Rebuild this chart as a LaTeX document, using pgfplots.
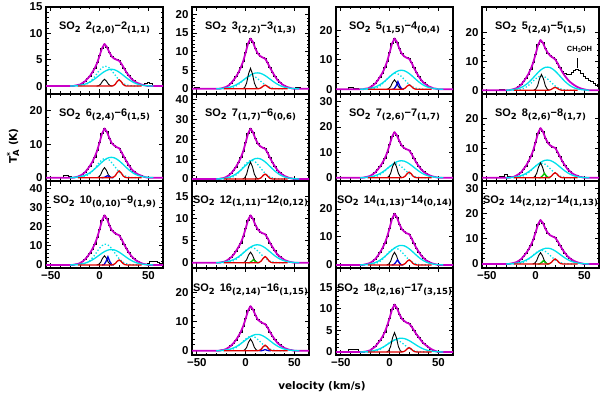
\documentclass[border=0pt]{standalone}
\usepackage{fontspec}
\setmainfont{Liberation Sans}
\newfontfamily\dv{DejaVu Sans}
\usepackage{pgfplots}
\pgfplotsset{compat=1.18}
\usepackage{pgfplotstable}

\definecolor{mag}{RGB}{200,0,200}
\definecolor{cy}{RGB}{0,225,235}
\definecolor{rd}{RGB}{225,0,0}
\definecolor{bl}{RGB}{0,0,220}
\definecolor{gr}{RGB}{0,200,0}

\newcommand{\lab}{\fontsize{11.5}{12}\selectfont\bfseries}
\newcommand{\tfont}{\fontsize{11}{12}\selectfont\bfseries}
\newcommand{\afont}{\dv\fontsize{10.5}{11}\selectfont\bfseries}
\newcommand{\sub}[1]{\raisebox{-2.4bp}{\dv\fontsize{8.5}{9}\selectfont\bfseries #1}}
\newcommand{\so}[4]{SO\sub{2}\hspace{5bp}#1\sub{(#2)}−#3\sub{(#4)}}

\tikzset{ttl/.style={font=\tfont, inner sep=0pt, anchor=center}}
\pgfplotsset{
  panel/.style={
    anchor=south west, width=117bp, height=87bp, scale only axis,
    xmin=-55, xmax=65, xtick={-50,0,50}, minor x tick num=4,
    xticklabels={}, minor y tick num=4,
    tick align=inside, xtick pos=both, ytick pos=both,
    xticklabel pos=lower, yticklabel pos=left,
    major tick length=4.5bp, minor tick length=2.5bp,
    axis line style={line width=1.1bp},
    every tick/.append style={line width=0.9bp, black},
    tick label style={font=\lab},
    /pgf/number format/assume math mode=true,
    clip mode=individual,
  },
  xlab/.style={xticklabels={−50,0,50}},
  dat/.style={black, line width=0.8bp, const plot mark mid},
  fit/.style={mag, line width=1.8bp, line join=round},
  cs/.style={cy, line width=1.3bp, smooth},
  cd/.style={cy, line width=1.3bp, smooth, dash pattern=on 1.3bp off 2bp},
  bk/.style={black, line width=0.9bp},
  rdl/.style={rd, line width=1.3bp},
  blu/.style={bl, line width=1.3bp},
  grn/.style={gr, line width=1.3bp},
}

% velocity, spectrum, fit
\pgfplotstableread{
v d f
-55 0 0
-50 0 0
-45 0.1 0
-40 0 0
-35 0.1 0
-30 0 0
-27.5 0.1 0
-25 0.1 0.1
-22.5 0.2 0.2
-20 0.3 0.3
-17.5 0.6 0.6
-15 0.9 0.9
-12.5 1.4 1.4
-10 1.9 1.9
-7.5 2.6 2.6
-5 3.4 3.4
-2.5 4.4 4.4
0 5.8 5.8
2.5 7.2 7.2
5 8.0 8.0
7.5 7.4 7.4
10 6.4 6.4
12.5 5.6 5.6
15 5.2 5.2
17.5 5.0 5.0
20 4.8 4.8
22.5 4.2 4.2
25 3.4 3.4
27.5 2.6 2.6
30 2.0 2.0
32.5 1.4 1.4
35 1.0 1.0
37.5 0.7 0.7
40 0.5 0.5
42.5 0.3 0.3
45 0.3 0.2
47.5 0.5 0.1
50 0.7 0
52.5 0.6 0
55 0.2 0
57.5 0 0
60 0.1 0
62.5 0 0
65 0 0
}\tA

\pgfplotstableread{
v d f
-55 0 0
-50 0.3 0
-45 0 0
-40 0.1 0
-35 0 0
-30 0.1 0
-27.5 0 0
-25 0.1 0.1
-22.5 0.3 0.3
-20 0.5 0.5
-17.5 0.9 0.9
-15 1.5 1.5
-12.5 2.3 2.3
-10 3.2 3.2
-7.5 4.3 4.3
-5 5.7 5.7
-2.5 7.4 7.4
0 9.7 9.7
2.5 12.2 12.2
5 13.5 13.5
7.5 12.6 12.6
10 10.8 10.8
12.5 9.5 9.5
15 8.8 8.8
17.5 8.4 8.4
20 8.1 8.1
22.5 7.0 7.0
25 5.7 5.7
27.5 4.5 4.5
30 3.4 3.4
32.5 2.4 2.4
35 1.8 1.8
37.5 1.2 1.2
40 0.8 0.8
42.5 0.5 0.5
45 0.3 0.3
47.5 0.1 0.1
50 0.2 0
52.5 0.5 0
55 0.3 0
57.5 0 0
60 0.1 0
62.5 0 0
65 0 0
}\tB

\pgfplotstableread{
v d f
-55 0 0
-50 0 0
-45 0.1 0
-40 0.5 0
-35 0.2 0
-30 0 0
-27.5 0.1 0
-25 0.2 0.2
-22.5 0.3 0.3
-20 0.7 0.7
-17.5 1.2 1.2
-15 1.9 1.9
-12.5 2.9 2.9
-10 4.2 4.2
-7.5 5.5 5.5
-5 7.3 7.3
-2.5 9.5 9.5
0 12.5 12.5
2.5 15.6 15.6
5 17.3 17.3
7.5 16.1 16.1
10 13.8 13.8
12.5 12.1 12.1
15 11.2 11.2
17.5 10.7 10.7
20 10.4 10.4
22.5 9.0 9.0
25 7.3 7.3
27.5 5.7 5.7
30 4.3 4.3
32.5 3.1 3.1
35 2.2 2.2
37.5 1.6 1.6
40 1.0 1.0
42.5 0.7 0.7
45 0.3 0.3
47.5 0.2 0.2
50 0 0
52.5 0 0
55 0.1 0
57.5 0 0
60 0 0
62.5 0.1 0
65 0 0
}\tC

\pgfplotstableread{
v d f
-55 0 0
-50 0 0
-45 0.1 0
-40 0 0
-35 0.3 0
-30 0.1 0
-27.5 0 0
-25 0.2 0.2
-22.5 0.4 0.4
-20 0.7 0.7
-17.5 1.2 1.2
-15 1.9 1.9
-12.5 3.0 3.0
-10 4.2 4.2
-7.5 5.6 5.6
-5 7.4 7.4
-2.5 9.6 9.6
0 12.6 12.6
2.5 15.8 15.8
5 17.5 17.5
7.5 16.5 16.5
10 14.5 14.5
12.5 13.0 13.0
15 12.0 12.0
17.5 11.4 11.4
20 10.8 10.8
22.5 9.4 9.4
25 7.8 7.8
27.5 6.6 6.3
30 5.8 5.0
32.5 5.4 3.9
35 5.6 3.0
37.5 6.2 2.3
40 6.9 1.7
42.5 7.2 1.2
45 6.8 0.8
47.5 6.0 0.5
50 5.0 0.3
52.5 4.3 0.1
55 3.6 0
57.5 3.0 0
60 2.4 0
62.5 1.8 0
65 1.4 0
}\tD

\pgfplotstableread{
v d f
-55 0 0
-50 0 0
-45 0.1 0
-40 0.2 0
-35 0.6 0
-30 0.3 0
-27.5 0.1 0
-25 0.1 0.1
-22.5 0.3 0.3
-20 0.6 0.6
-17.5 1.0 1.0
-15 1.6 1.6
-12.5 2.5 2.5
-10 3.5 3.5
-7.5 4.7 4.7
-5 6.2 6.2
-2.5 8.1 8.1
0 10.6 10.6
2.5 13.2 13.2
5 14.7 14.7
7.5 13.7 13.7
10 11.8 11.8
12.5 10.3 10.3
15 9.6 9.6
17.5 9.1 9.1
20 8.8 8.8
22.5 7.6 7.6
25 6.2 6.2
27.5 4.9 4.9
30 3.7 3.7
32.5 2.6 2.6
35 1.9 1.9
37.5 1.3 1.3
40 0.9 0.9
42.5 0.6 0.6
45 0.3 0.3
47.5 0.1 0.1
50 0 0
52.5 0 0
55 0.1 0
57.5 0 0
60 0 0
62.5 0.1 0
65 0 0
}\tE

\pgfplotstableread{
v d f
-55 0 0
-50 0 0
-45 0.2 0
-40 0 0
-35 0.1 0
-30 0 0
-27.5 0.1 0
-25 0.3 0.3
-22.5 0.5 0.5
-20 1.0 1.0
-17.5 1.8 1.8
-15 2.8 2.8
-12.5 4.3 4.3
-10 6.1 6.1
-7.5 8.2 8.2
-5 10.7 10.7
-2.5 14.0 14.0
0 18.4 18.4
2.5 23.0 23.0
5 25.5 25.5
7.5 23.7 23.7
10 20.4 20.4
12.5 17.9 17.9
15 16.6 16.6
17.5 15.8 15.8
20 15.3 15.3
22.5 13.3 13.3
25 10.7 10.7
27.5 8.4 8.4
30 6.4 6.4
32.5 4.6 4.6
35 3.3 3.3
37.5 2.3 2.3
40 1.5 1.5
42.5 1.0 1.0
45 0.5 0.5
47.5 0.3 0.3
50 0 0
52.5 0.2 0
55 0 0
57.5 0 0
60 0.1 0
62.5 0 0
65 0 0
}\tF

\pgfplotstableread{
v d f
-55 0 0
-50 0 0
-45 0.1 0
-40 0 0
-35 0.1 0
-30 0 0
-27.5 0.1 0
-25 0.2 0.2
-22.5 0.4 0.4
-20 0.7 0.7
-17.5 1.3 1.3
-15 2.0 2.0
-12.5 3.1 3.1
-10 4.3 4.3
-7.5 5.8 5.8
-5 7.6 7.6
-2.5 9.9 9.9
0 13.0 13.0
2.5 16.2 16.2
5 18.0 18.0
7.5 16.7 16.7
10 14.4 14.4
12.5 12.6 12.6
15 11.7 11.7
17.5 11.2 11.2
20 10.8 10.8
22.5 9.4 9.4
25 7.6 7.6
27.5 5.9 5.9
30 4.5 4.5
32.5 3.2 3.2
35 2.3 2.3
37.5 1.6 1.6
40 1.1 1.1
42.5 0.7 0.7
45 0.4 0.4
47.5 0.2 0.2
50 0 0
52.5 0 0
55 0.1 0
57.5 0 0
60 0 0
62.5 0.1 0
65 0 0
}\tG

\pgfplotstableread{
v d f
-55 0 0
-50 0 0
-45 0.1 0
-40 0 0
-35 0.3 0
-30 1.0 0
-27.5 0.4 0
-25 0.2 0.2
-22.5 0.3 0.3
-20 0.7 0.7
-17.5 1.2 1.2
-15 1.8 1.8
-12.5 2.9 2.9
-10 4.0 4.0
-7.5 5.4 5.4
-5 7.1 7.1
-2.5 9.2 9.2
0 12.1 12.1
2.5 15.1 15.1
5 16.8 16.8
7.5 15.6 15.6
10 13.4 13.4
12.5 11.8 11.8
15 10.9 10.9
17.5 10.4 10.4
20 10.1 10.1
22.5 8.7 8.7
25 7.1 7.1
27.5 5.5 5.5
30 4.2 4.2
32.5 3.0 3.0
35 2.2 2.2
37.5 1.5 1.5
40 1.0 1.0
42.5 0.7 0.7
45 0.3 0.3
47.5 0.2 0.2
50 0 0
52.5 0 0
55 0.1 0
57.5 0 0
60 0 0
62.5 0.1 0
65 0 0
}\tH

\pgfplotstableread{
v d f
-55 0 0
-50 0 0
-45 0.1 0
-40 0 0
-35 0.1 0
-30 0 0
-27.5 0.1 0
-25 0.3 0.3
-22.5 0.5 0.5
-20 1.0 1.0
-17.5 1.8 1.8
-15 2.9 2.9
-12.5 4.4 4.4
-10 6.2 6.2
-7.5 8.3 8.3
-5 10.9 10.9
-2.5 14.3 14.3
0 18.7 18.7
2.5 23.4 23.4
5 26.0 26.0
7.5 24.2 24.2
10 20.8 20.8
12.5 18.2 18.2
15 16.9 16.9
17.5 16.1 16.1
20 15.6 15.6
22.5 13.5 13.5
25 10.9 10.9
27.5 8.6 8.6
30 6.5 6.5
32.5 4.7 4.7
35 3.4 3.4
37.5 2.3 2.3
40 1.6 1.6
42.5 1.0 1.0
45 0.5 0.5
47.5 0.5 0.3
50 1.0 0
52.5 1.8 0
55 2.0 0
57.5 1.6 0
60 1.2 0
62.5 0.6 0
65 0.3 0
}\tI

\pgfplotstableread{
v d f
-55 0 0
-50 0 0
-45 0.1 0
-40 0 0
-35 0.1 0
-30 0 0
-27.5 0.1 0
-25 0.1 0.1
-22.5 0.2 0.2
-20 0.4 0.4
-17.5 0.8 0.8
-15 1.2 1.2
-12.5 1.8 1.8
-10 2.6 2.6
-7.5 3.5 3.5
-5 4.5 4.5
-2.5 5.9 5.9
0 7.8 7.8
2.5 9.7 9.7
5 10.8 10.8
7.5 10.0 10.0
10 8.6 8.6
12.5 7.6 7.6
15 7.0 7.0
17.5 6.7 6.7
20 6.5 6.5
22.5 5.6 5.6
25 4.5 4.5
27.5 3.6 3.6
30 2.7 2.7
32.5 1.9 1.9
35 1.4 1.4
37.5 1.0 1.0
40 0.6 0.6
42.5 0.4 0.4
45 0.2 0.2
47.5 0.1 0.1
50 0 0
52.5 0 0
55 0.1 0
57.5 0 0
60 0 0
62.5 0.1 0
65 0 0
}\tJ

\pgfplotstableread{
v d f
-55 0 0
-50 0 0
-45 0.1 0
-40 0 0
-35 0.1 0
-30 0 0
-27.5 0.1 0
-25 0.2 0.2
-22.5 0.4 0.4
-20 0.7 0.7
-17.5 1.3 1.3
-15 2.0 2.0
-12.5 3.1 3.1
-10 4.4 4.4
-7.5 5.9 5.9
-5 7.7 7.7
-2.5 10.1 10.1
0 13.2 13.2
2.5 16.5 16.5
5 18.3 18.3
7.5 17.0 17.0
10 14.6 14.6
12.5 12.8 12.8
15 11.9 11.9
17.5 11.3 11.3
20 11.0 11.0
22.5 9.5 9.5
25 7.7 7.7
27.5 6.0 6.0
30 4.6 4.6
32.5 3.3 3.3
35 2.4 2.4
37.5 1.6 1.6
40 1.1 1.1
42.5 0.7 0.7
45 0.4 0.4
47.5 0.2 0.2
50 0 0
52.5 0 0
55 0.1 0
57.5 0 0
60 0 0
62.5 0.1 0
65 0 0
}\tK

\pgfplotstableread{
v d f
-55 0 0
-50 0 0
-45 0.1 0
-40 0 0
-35 0.1 0
-30 0 0
-27.5 0.1 0
-25 0.2 0.2
-22.5 0.4 0.4
-20 0.7 0.7
-17.5 1.2 1.2
-15 1.9 1.9
-12.5 3.0 3.0
-10 4.2 4.2
-7.5 5.6 5.6
-5 7.4 7.4
-2.5 9.6 9.6
0 12.6 12.6
2.5 15.8 15.8
5 17.5 17.5
7.5 16.3 16.3
10 14.0 14.0
12.5 12.3 12.3
15 11.4 11.4
17.5 10.9 10.9
20 10.5 10.5
22.5 9.1 9.1
25 7.4 7.4
27.5 5.8 5.8
30 4.4 4.4
32.5 3.2 3.2
35 2.3 2.3
37.5 1.6 1.6
40 1.1 1.1
42.5 0.7 0.7
45 0.4 0.4
47.5 0.2 0.2
50 0 0
52.5 0 0
55 0.1 0
57.5 0 0
60 0 0
62.5 0.1 0
65 0 0
}\tL

\pgfplotstableread{
v d f
-55 0 0
-50 0 0
-45 0.1 0
-40 0 0
-35 0.1 0
-30 0 0
-27.5 0.1 0
-25 0.2 0.2
-22.5 0.3 0.3
-20 0.6 0.6
-17.5 1.1 1.1
-15 1.7 1.7
-12.5 2.6 2.6
-10 3.6 3.6
-7.5 4.9 4.9
-5 6.4 6.4
-2.5 8.4 8.4
0 10.9 10.9
2.5 13.7 13.7
5 15.2 15.2
7.5 14.1 14.1
10 12.2 12.2
12.5 10.6 10.6
15 9.9 9.9
17.5 9.4 9.4
20 9.1 9.1
22.5 7.9 7.9
25 6.4 6.4
27.5 5.0 5.0
30 3.8 3.8
32.5 2.7 2.7
35 2.0 2.0
37.5 1.4 1.4
40 0.9 0.9
42.5 0.6 0.6
45 0.3 0.3
47.5 0.2 0.2
50 0 0
52.5 0 0
55 0.1 0
57.5 0 0
60 0 0
62.5 0.1 0
65 0 0
}\tM

\pgfplotstableread{
v d f
-55 0 0
-50 0 0
-45 0.1 0
-40 0.6 0
-35 0.5 0
-30 0.1 0
-27.5 0 0
-25 0.1 0.1
-22.5 0.2 0.2
-20 0.4 0.4
-17.5 0.8 0.8
-15 1.2 1.2
-12.5 1.9 1.9
-10 2.6 2.6
-7.5 3.5 3.5
-5 4.6 4.6
-2.5 6.1 6.1
0 7.9 7.9
2.5 9.9 9.9
5 11.0 11.0
7.5 10.2 10.2
10 8.8 8.8
12.5 7.7 7.7
15 7.2 7.2
17.5 6.8 6.8
20 6.6 6.6
22.5 5.9 5.9
25 5.0 5.0
27.5 4.1 4.1
30 3.4 3.4
32.5 2.6 2.6
35 2.0 2.0
37.5 1.5 1.5
40 1.1 1.1
42.5 0.7 0.7
45 0.4 0.4
47.5 0.2 0.2
50 0 0
52.5 0 0
55 0.1 0
57.5 0 0
60 0 0
62.5 0.1 0
65 0 0
}\tN

\begin{document}
\begin{tikzpicture}
\path[use as bounding box] (0,0) rectangle (600bp,396bp);

% ---- row 1
\begin{axis}[panel, at={(46bp,302bp)}, ymin=-1.5, ymax=15, ytick={0,5,10,15}]
\addplot[dat] table[x=v,y=d]{\tA};
\addplot[fit] table[x=v,y=f]{\tA};
\addplot[cs] coordinates {(-30,0)(-25,0.05)(-20,0.15)(-15,0.37)(-10,0.76)(-5,1.36)(0,2.09)(5,2.77)(10,3.16)(15,3.12)(20,2.65)(25,1.94)(30,1.23)(35,0.67)(40,0.31)(45,0.13)(50,0.04)(55,0)};
\addplot[cd] coordinates {(-30,0)(-25,0.01)(-20,0.06)(-15,0.25)(-10,0.78)(-5,1.80)(0,3.04)(5,3.78)(10,3.44)(15,2.31)(20,1.13)(25,0.41)(30,0.11)(35,0.02)(40,0)};
\addplot[bk] coordinates {(-3,0)(-1,0.08)(1,0.36)(3,0.95)(5,1.3)(7,0.95)(9,0.36)(11,0.08)(13,0)};
\addplot[rdl] coordinates {(-22,0)(12,0)(14,0.07)(16,0.34)(18,0.88)(20,1.2)(22,0.88)(24,0.34)(26,0.07)(28,0)(43,0)};
\node[ttl] at (rel axis cs:0.5,0.76) {\so{2}{2,0}{2}{1,1}};
\end{axis}

\begin{axis}[panel, at={(192bp,302bp)}, ymin=-1.4, ymax=22, ytick={0,5,10,15,20}]
\addplot[dat] table[x=v,y=d]{\tB};
\addplot[fit] table[x=v,y=f]{\tB};
\addplot[cs] coordinates {(-30,0)(-25,0.07)(-20,0.21)(-15,0.50)(-10,1.03)(-5,1.83)(0,2.81)(5,3.72)(10,4.25)(15,4.19)(20,3.56)(25,2.61)(30,1.65)(35,0.90)(40,0.42)(45,0.17)(50,0.06)(55,0)};
\addplot[cd] coordinates {(-30,0)(-25,0.01)(-20,0.05)(-15,0.23)(-10,0.72)(-5,1.66)(0,2.80)(5,3.48)(10,3.17)(15,2.12)(20,1.04)(25,0.38)(30,0.10)(35,0.02)(40,0)};
\addplot[bk] coordinates {(-3,0)(-1,0.33)(1,1.54)(3,4.02)(5,5.5)(7,4.02)(9,1.54)(11,0.33)(13,0)};
\addplot[rdl] coordinates {(-22,0)(12,0)(14,0.06)(16,0.28)(18,0.73)(20,1.0)(22,0.73)(24,0.28)(26,0.06)(28,0)(43,0)};
\node[ttl] at (rel axis cs:0.5,0.76) {\so{3}{2,2}{3}{1,3}};
\end{axis}

\begin{axis}[panel, at={(336bp,302bp)}, ymin=-1.6, ymax=28, ytick={0,10,20}]
\addplot[dat] table[x=v,y=d]{\tC};
\addplot[fit] table[x=v,y=f]{\tC};
\addplot[cs] coordinates {(-30,0)(-25,0.11)(-20,0.31)(-15,0.75)(-10,1.55)(-5,2.76)(0,4.24)(5,5.62)(10,6.42)(15,6.33)(20,5.38)(25,3.95)(30,2.49)(35,1.36)(40,0.64)(45,0.26)(50,0.09)(55,0)};
\addplot[cd] coordinates {(-30,0)(-25,0.02)(-20,0.08)(-15,0.36)(-10,1.13)(-5,2.61)(0,4.41)(5,5.47)(10,4.98)(15,3.34)(20,1.64)(25,0.59)(30,0.16)(35,0.03)(40,0)};
\addplot[bk] coordinates {(-3,0)(-1,0.19)(1,0.90)(3,2.34)(5,3.2)(7,2.34)(9,0.90)(11,0.19)(13,0)};
\addplot[blu] coordinates {(2.5,0)(4.5,0.08)(6.5,1.07)(8.5,2.6)(10.5,1.07)(12.5,0.08)(14.5,0)};
\addplot[rdl] coordinates {(-22,0)(12,0)(14,0.09)(16,0.42)(18,1.10)(20,1.5)(22,1.10)(24,0.42)(26,0.09)(28,0)(43,0)};
\node[ttl] at (rel axis cs:0.5,0.76) {\so{5}{1,5}{4}{0,4}};
\end{axis}

\begin{axis}[panel, at={(482bp,302bp)}, ymin=-1.3, ymax=29, ytick={0,10,20}]
\addplot[dat] table[x=v,y=d]{\tD};
\addplot[fit] table[x=v,y=f]{\tD};
\addplot[cs] coordinates {(-30,0)(-25,0.14)(-20,0.39)(-15,0.94)(-10,1.94)(-5,3.44)(0,5.29)(5,7.01)(10,8.00)(15,7.89)(20,6.70)(25,4.92)(30,3.10)(35,1.69)(40,0.79)(45,0.32)(50,0.11)(55,0)};
\addplot[cd] coordinates {(-30,0)(-25,0.02)(-20,0.08)(-15,0.33)(-10,1.03)(-5,2.37)(0,4.01)(5,4.97)(10,4.53)(15,3.04)(20,1.49)(25,0.54)(30,0.15)(35,0.03)(40,0)};
\addplot[bk] coordinates {(-2,0)(0,0.33)(2,1.54)(4,4.02)(6,5.5)(8,4.02)(10,1.54)(12,0.33)(14,0)};
\addplot[rdl] coordinates {(-22,0)(12,0)(14,0.06)(16,0.28)(18,0.73)(20,1.0)(22,0.73)(24,0.28)(26,0.06)(28,0)(43,0)};
\addplot[black, line width=0.9bp] coordinates {(42.5,7.8)(42.5,11.3)};
\node[font=\fontsize{7.5}{8}\selectfont\bfseries, inner sep=0pt] at (axis cs:45,14.2) {CH\raisebox{-1.5bp}{\fontsize{5.5}{6}\selectfont 3}OH};
\node[ttl] at (rel axis cs:0.5,0.76) {\so{5}{2,4}{5}{1,5}};
\end{axis}

% ---- row 2
\begin{axis}[panel, at={(46bp,215bp)}, ymin=-1.0, ymax=25, ytick={0,10,20}]
\addplot[dat] table[x=v,y=d]{\tE};
\addplot[fit] table[x=v,y=f]{\tE};
\addplot[cs] coordinates {(-30,0)(-25,0.10)(-20,0.29)(-15,0.71)(-10,1.46)(-5,2.59)(0,3.98)(5,5.28)(10,6.03)(15,5.94)(20,5.04)(25,3.70)(30,2.34)(35,1.27)(40,0.60)(45,0.24)(50,0.09)(55,0)};
\addplot[cd] coordinates {(-30,0)(-25,0.02)(-20,0.09)(-15,0.38)(-10,1.19)(-5,2.75)(0,4.65)(5,5.77)(10,5.25)(15,3.52)(20,1.73)(25,0.63)(30,0.17)(35,0.03)(40,0)};
\addplot[bk] coordinates {(-3,0)(-1,0.18)(1,0.84)(3,2.19)(5,3.0)(7,2.19)(9,0.84)(11,0.18)(13,0)};
\addplot[blu] coordinates {(2,0)(4,0.02)(6,0.25)(8,0.6)(10,0.25)(12,0.02)(14,0)};
\addplot[rdl] coordinates {(-22,0)(12,0)(14,0.12)(16,0.56)(18,1.46)(20,2.0)(22,1.46)(24,0.56)(26,0.12)(28,0)(43,0)};
\node[ttl] at (rel axis cs:0.5,0.76) {\so{6}{2,4}{6}{1,5}};
\end{axis}

\begin{axis}[panel, at={(192bp,215bp)}, ymin=-1.0, ymax=43, ytick={0,10,20,30,40}]
\addplot[dat] table[x=v,y=d]{\tF};
\addplot[fit] table[x=v,y=f]{\tF};
\addplot[cs] coordinates {(-30,0)(-25,0.18)(-20,0.50)(-15,1.22)(-10,2.51)(-5,4.46)(0,6.86)(5,9.08)(10,10.37)(15,10.23)(20,8.68)(25,6.37)(30,4.02)(35,2.19)(40,1.03)(45,0.42)(50,0.15)(55,0)};
\addplot[cd] coordinates {(-30,0)(-25,0.03)(-20,0.14)(-15,0.63)(-10,1.96)(-5,4.50)(0,7.61)(5,9.44)(10,8.61)(15,5.77)(20,2.83)(25,1.03)(30,0.28)(35,0.06)(40,0)};
\addplot[bk] coordinates {(-3,0)(-1,0.51)(1,2.38)(3,6.21)(5,8.5)(7,6.21)(9,2.38)(11,0.51)(13,0)};
\addplot[rdl] coordinates {(-22,0)(12,0)(14,0.15)(16,0.70)(18,1.83)(20,2.5)(22,1.83)(24,0.70)(26,0.15)(28,0)(43,0)};
\node[ttl] at (rel axis cs:0.5,0.76) {\so{7}{1,7}{6}{0,6}};
\end{axis}

\begin{axis}[panel, at={(336bp,215bp)}, ymin=-1.3, ymax=33, ytick={0,10,20,30}]
\addplot[dat] table[x=v,y=d]{\tG};
\addplot[fit] table[x=v,y=f]{\tG};
\addplot[cs] coordinates {(-30,0)(-25,0.11)(-20,0.32)(-15,0.78)(-10,1.60)(-5,2.85)(0,4.38)(5,5.80)(10,6.62)(15,6.53)(20,5.54)(25,4.07)(30,2.57)(35,1.40)(40,0.66)(45,0.27)(50,0.09)(55,0)};
\addplot[cd] coordinates {(-30,0)(-25,0.02)(-20,0.08)(-15,0.36)(-10,1.13)(-5,2.61)(0,4.41)(5,5.47)(10,4.98)(15,3.34)(20,1.64)(25,0.59)(30,0.16)(35,0.03)(40,0)};
\addplot[bk] coordinates {(-3,0)(-1,0.36)(1,1.68)(3,4.38)(5,6.0)(7,4.38)(9,1.68)(11,0.36)(13,0)};
\addplot[rdl] coordinates {(-22,0)(12,0)(14,0.13)(16,0.62)(18,1.61)(20,2.2)(22,1.61)(24,0.62)(26,0.13)(28,0)(43,0)};
\node[ttl] at (rel axis cs:0.5,0.76) {\so{7}{2,6}{7}{1,7}};
\end{axis}

\begin{axis}[panel, at={(482bp,215bp)}, ymin=-1.1, ymax=28.3, ytick={0,10,20}]
\addplot[dat] table[x=v,y=d]{\tH};
\addplot[fit] table[x=v,y=f]{\tH};
\addplot[cs] coordinates {(-30,0)(-25,0.10)(-20,0.29)(-15,0.70)(-10,1.43)(-5,2.55)(0,3.92)(5,5.19)(10,5.93)(15,5.84)(20,4.96)(25,3.64)(30,2.30)(35,1.25)(40,0.59)(45,0.24)(50,0.08)(55,0)};
\addplot[cd] coordinates {(-30,0)(-25,0.02)(-20,0.08)(-15,0.33)(-10,1.03)(-5,2.37)(0,4.01)(5,4.97)(10,4.53)(15,3.04)(20,1.49)(25,0.54)(30,0.15)(35,0.03)(40,0)};
\addplot[bk] coordinates {(-3,0)(-1,0.30)(1,1.40)(3,3.65)(5,5.0)(7,3.65)(9,1.40)(11,0.30)(13,0)};
\addplot[grn] coordinates {(3,0)(5,0.05)(7,0.62)(9,1.5)(11,0.62)(13,0.05)(15,0)};
\addplot[rdl] coordinates {(-22,0)(12,0)(14,0.10)(16,0.48)(18,1.24)(20,1.7)(22,1.24)(24,0.48)(26,0.10)(28,0)(43,0)};
\node[ttl] at (rel axis cs:0.5,0.76) {\so{8}{2,6}{8}{1,7}};
\end{axis}

% ---- row 3
\begin{axis}[panel, xlab, at={(46bp,128bp)}, ymin=-1.6, ymax=44, ytick={0,10,20,30,40}]
\addplot[dat] table[x=v,y=d]{\tI};
\addplot[fit] table[x=v,y=f]{\tI};
\addplot[cs] coordinates {(-30,0)(-25,0.14)(-20,0.39)(-15,0.94)(-10,1.94)(-5,3.44)(0,5.29)(5,7.01)(10,8.00)(15,7.89)(20,6.70)(25,4.92)(30,3.10)(35,1.69)(40,0.79)(45,0.32)(50,0.11)(55,0)};
\addplot[cd] coordinates {(-30,0)(-25,0.03)(-20,0.17)(-15,0.73)(-10,2.27)(-5,5.21)(0,8.81)(5,10.93)(10,9.97)(15,6.68)(20,3.28)(25,1.19)(30,0.32)(35,0.07)(40,0)};
\addplot[bk] coordinates {(-3,0)(-1,0.29)(1,1.34)(3,3.50)(5,4.8)(7,3.50)(9,1.34)(11,0.29)(13,0)};
\addplot[blu] coordinates {(2.5,0)(4.5,0.13)(6.5,1.76)(8.5,4.3)(10.5,1.76)(12.5,0.13)(14.5,0)};
\addplot[rdl] coordinates {(-22,0)(12,0)(14,0.16)(16,0.73)(18,1.90)(20,2.6)(22,1.90)(24,0.73)(26,0.16)(28,0)(43,0)};
\node[ttl] at (rel axis cs:0.5,0.76) {\so{10}{0,10}{9}{1,9}};
\end{axis}

\begin{axis}[panel, at={(192bp,128bp)}, ymin=-1.2, ymax=18.6, ytick={0,5,10,15}]
\addplot[dat] table[x=v,y=d]{\tJ};
\addplot[fit] table[x=v,y=f]{\tJ};
\addplot[cs] coordinates {(-30,0)(-25,0.07)(-20,0.20)(-15,0.48)(-10,0.98)(-5,1.74)(0,2.68)(5,3.55)(10,4.05)(15,3.99)(20,3.39)(25,2.49)(30,1.57)(35,0.86)(40,0.40)(45,0.16)(50,0.06)(55,0)};
\addplot[cd] coordinates {(-30,0)(-25,0.01)(-20,0.05)(-15,0.23)(-10,0.72)(-5,1.66)(0,2.80)(5,3.48)(10,3.17)(15,2.12)(20,1.04)(25,0.38)(30,0.10)(35,0.02)(40,0)};
\addplot[bk] coordinates {(-3,0)(-1,0.14)(1,0.67)(3,1.75)(5,2.4)(7,1.75)(9,0.67)(11,0.14)(13,0)};
\addplot[grn] coordinates {(2,0)(4,0.02)(6,0.29)(8,0.7)(10,0.29)(12,0.02)(14,0)};
\addplot[rdl] coordinates {(-22,0)(12,0)(14,0.08)(16,0.39)(18,1.02)(20,1.4)(22,1.02)(24,0.39)(26,0.08)(28,0)(43,0)};
\node[ttl] at (rel axis cs:0.5,0.77) {\so{12}{1,11}{12}{0,12}};
\end{axis}

\begin{axis}[panel, at={(336bp,128bp)}, ymin=-1.1, ymax=30, ytick={0,10,20}]
\addplot[dat] table[x=v,y=d]{\tK};
\addplot[fit] table[x=v,y=f]{\tK};
\addplot[cs] coordinates {(-30,0)(-25,0.12)(-20,0.34)(-15,0.81)(-10,1.67)(-5,2.98)(0,4.57)(5,6.06)(10,6.92)(15,6.82)(20,5.79)(25,4.25)(30,2.68)(35,1.46)(40,0.69)(45,0.28)(50,0.10)(55,0)};
\addplot[cd] coordinates {(-30,0)(-25,0.02)(-20,0.09)(-15,0.40)(-10,1.24)(-5,2.84)(0,4.81)(5,5.96)(10,5.44)(15,3.64)(20,1.79)(25,0.65)(30,0.17)(35,0.04)(40,0)};
\addplot[bk] coordinates {(-3,0)(-1,0.27)(1,1.26)(3,3.29)(5,4.5)(7,3.29)(9,1.26)(11,0.27)(13,0)};
\addplot[blu] coordinates {(2,0)(4,0.05)(6,0.74)(8,1.8)(10,0.74)(12,0.05)(14,0)};
\addplot[rdl] coordinates {(-22,0)(12,0)(14,0.11)(16,0.50)(18,1.31)(20,1.8)(22,1.31)(24,0.50)(26,0.11)(28,0)(43,0)};
\node[ttl] at (rel axis cs:0.5,0.77) {\so{14}{1,13}{14}{0,14}};
\end{axis}

\begin{axis}[panel, xlab, at={(482bp,128bp)}, ymin=-1.6, ymax=33, ytick={0,10,20,30}]
\addplot[dat] table[x=v,y=d]{\tL};
\addplot[fit] table[x=v,y=f]{\tL};
\addplot[cs] coordinates {(-30,0)(-25,0.11)(-20,0.30)(-15,0.73)(-10,1.51)(-5,2.68)(0,4.11)(5,5.45)(10,6.22)(15,6.14)(20,5.21)(25,3.82)(30,2.41)(35,1.32)(40,0.62)(45,0.25)(50,0.09)(55,0)};
\addplot[cd] coordinates {(-30,0)(-25,0.02)(-20,0.08)(-15,0.36)(-10,1.13)(-5,2.61)(0,4.41)(5,5.47)(10,4.98)(15,3.34)(20,1.64)(25,0.59)(30,0.16)(35,0.03)(40,0)};
\addplot[bk] coordinates {(-3,0)(-1,0.27)(1,1.26)(3,3.29)(5,4.5)(7,3.29)(9,1.26)(11,0.27)(13,0)};
\addplot[grn] coordinates {(2,0)(4,0.04)(6,0.53)(8,1.3)(10,0.53)(12,0.04)(14,0)};
\addplot[rdl] coordinates {(-22,0)(12,0)(14,0.12)(16,0.56)(18,1.46)(20,2.0)(22,1.46)(24,0.56)(26,0.12)(28,0)(43,0)};
\node[ttl] at (rel axis cs:0.5,0.77) {\so{14}{2,12}{14}{1,13}};
\end{axis}

% ---- row 4
\begin{axis}[panel, xlab, at={(192bp,41bp)}, ymin=-1.45, ymax=28.2, ytick={0,10,20}]
\addplot[dat] table[x=v,y=d]{\tM};
\addplot[fit] table[x=v,y=f]{\tM};
\addplot[cs] coordinates {(-30,0)(-25,0.10)(-20,0.27)(-15,0.65)(-10,1.34)(-5,2.38)(0,3.66)(5,4.84)(10,5.53)(15,5.45)(20,4.63)(25,3.40)(30,2.14)(35,1.17)(40,0.55)(45,0.22)(50,0.08)(55,0)};
\addplot[cd] coordinates {(-30,0)(-25,0.02)(-20,0.08)(-15,0.33)(-10,1.03)(-5,2.37)(0,4.01)(5,4.97)(10,4.53)(15,3.04)(20,1.49)(25,0.54)(30,0.15)(35,0.03)(40,0)};
\addplot[bk] coordinates {(-3,0)(-1,0.24)(1,1.12)(3,2.92)(5,4.0)(7,2.92)(9,1.12)(11,0.24)(13,0)};
\addplot[blu] coordinates {(14,0)(16,0.01)(18,0.16)(20,0.4)(22,0.16)(24,0.01)(26,0)};
\addplot[rdl] coordinates {(-22,0)(12,0)(14,0.11)(16,0.53)(18,1.39)(20,1.9)(22,1.39)(24,0.53)(26,0.11)(28,0)(43,0)};
\node[ttl] at (rel axis cs:0.5,0.75) {\so{16}{2,14}{16}{1,15}};
\end{axis}

\begin{axis}[panel, xlab, at={(336bp,41bp)}, ymin=-0.7, ymax=19.5, ytick={0,5,10,15}]
\addplot[dat] table[x=v,y=d]{\tN};
\addplot[fit] table[x=v,y=f]{\tN};
\addplot[cs] coordinates {(-30,0)(-25,0.05)(-20,0.15)(-15,0.37)(-10,0.76)(-5,1.36)(0,2.09)(5,2.77)(10,3.16)(15,3.12)(20,2.65)(25,1.94)(30,1.23)(35,0.67)(40,0.31)(45,0.13)(50,0.04)(55,0)};
\addplot[cd] coordinates {(-30,0)(-25,0.01)(-20,0.04)(-15,0.18)(-10,0.58)(-5,1.33)(0,2.24)(5,2.78)(10,2.54)(15,1.70)(20,0.83)(25,0.30)(30,0.08)(35,0.02)(40,0)};
\addplot[bk] coordinates {(-3,0)(-1,0.27)(1,1.26)(3,3.29)(5,4.5)(7,3.29)(9,1.26)(11,0.27)(13,0)};
\addplot[rdl] coordinates {(-22,0)(12,0)(14,0.06)(16,0.28)(18,0.73)(20,1.0)(22,0.73)(24,0.28)(26,0.06)(28,0)(43,0)};
\node[ttl] at (rel axis cs:0.5,0.75) {\so{18}{2,16}{17}{3,15}};
\end{axis}

% ---- shared labels
\node[font=\afont, rotate=90] at (13bp,250bp) {T\rlap{\raisebox{4.5bp}{\fontsize{7.5}{8}\selectfont *}}\sub{A}\hspace{4bp}(K)};
\node[font=\afont] at (322bp,9bp) {velocity (km/s)};
\end{tikzpicture}
\end{document}
